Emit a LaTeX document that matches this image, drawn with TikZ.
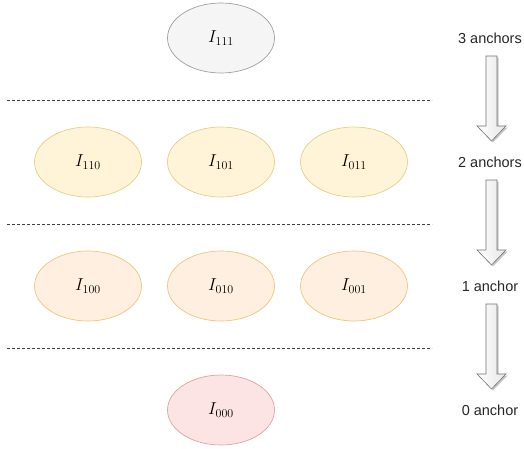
\documentclass[tikz,border=0pt]{standalone}
\usepackage{fontspec}
\newfontfamily\labelfont{Liberation Sans}
\usetikzlibrary{shapes.geometric}
\definecolor{grayfill}{HTML}{F5F5F5}
\definecolor{graydraw}{HTML}{A0A0A0}
\definecolor{yelfill}{HTML}{FFF4D8}
\definecolor{yeldraw}{HTML}{E6CF8A}
\definecolor{orfill}{HTML}{FFEFE0}
\definecolor{ordraw}{HTML}{EFC77C}
\definecolor{redfill}{HTML}{FCE4E4}
\definecolor{reddraw}{HTML}{DFA3A3}
\tikzset{
  state/.style={ellipse, minimum width=107pt, minimum height=70pt, inner sep=0pt, line width=0.7pt, font=\fontsize{17.5}{20}\selectfont},
  top/.style={state, fill=grayfill, draw=graydraw},
  two/.style={state, fill=yelfill, draw=yeldraw},
  one/.style={state, fill=orfill, draw=ordraw},
  zero/.style={state, fill=redfill, draw=reddraw},
  sep/.style={draw=black!75, dash pattern=on 3pt off 2pt, line width=0.7pt},
  lbl/.style={font=\labelfont\fontsize{14.5}{17}\selectfont, text=black!85},
  blockarrow/.style={draw=black!55, line width=0.6pt, left color=white, right color=black!10},
  arrshadow/.style={fill=black!22, draw=none}
}
\newcommand{\blockarr}[2]{%
  % #1 top y, #2 tip y ; center x = 491.5
  \fill[arrshadow] (486+1.5,#1+1.5) -- (497+1.5,#1+1.5) -- (497+1.5,#2-15+1.5) -- (506+1.5,#2-15+1.5) -- (491.5+1.5,#2+1.5) -- (477+1.5,#2-15+1.5) -- (486+1.5,#2-15+1.5) -- cycle;
  \draw[blockarrow] (486,#1) -- (497,#1) -- (497,#2-15) -- (506,#2-15) -- (491.5,#2) -- (477,#2-15) -- (486,#2-15) -- cycle;
}
\begin{document}
\begin{tikzpicture}[x=1pt,y=-1pt]
\useasboundingbox (0,0) rectangle (524,448);
% states
\node[top]  (i111) at (221,38)  {$I_{111}$};
\node[two]  (i110) at (88,162)  {$I_{110}$};
\node[two]  (i101) at (221,162) {$I_{101}$};
\node[two]  (i011) at (354,162) {$I_{011}$};
\node[one]  (i100) at (88,286)  {$I_{100}$};
\node[one]  (i010) at (221,286) {$I_{010}$};
\node[one]  (i001) at (354,286) {$I_{001}$};
\node[zero] (i000) at (221,410) {$I_{000}$};
% separators
\draw[sep] (7,100.5) -- (432,100.5);
\draw[sep] (7,224.5) -- (432,224.5);
\draw[sep] (7,348.5) -- (432,348.5);
% labels
\node[lbl] (l3) at (490,38)  {3 anchors};
\node[lbl] (l2) at (490,162) {2 anchors};
\node[lbl] (l1) at (490,286) {1 anchor};
\node[lbl] (l0) at (490,410) {0 anchor};
% block arrows
\blockarr{56}{141}
\blockarr{180}{265}
\blockarr{304}{389}
\end{tikzpicture}
\end{document}
